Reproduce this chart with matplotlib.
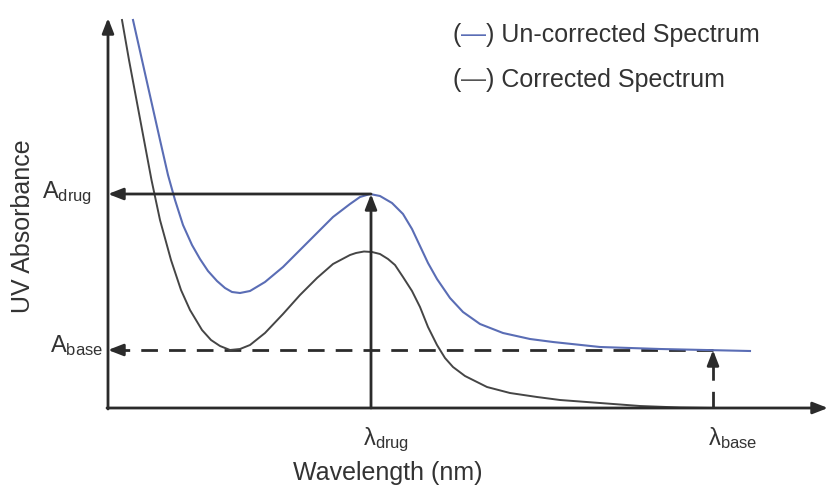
import matplotlib
matplotlib.use("Agg")
import matplotlib.pyplot as plt
from matplotlib.offsetbox import TextArea, HPacker, AnnotationBbox

plt.rcParams['font.family'] = ['Liberation Sans', 'DejaVu Sans']
plt.rcParams['mathtext.fontset'] = 'custom'
plt.rcParams['mathtext.rm'] = 'Liberation Sans'
plt.rcParams['mathtext.it'] = 'Liberation Sans'

# spectra (wavelength and absorbance in arbitrary units)
wl_corr = [14, 21, 28.5, 36, 43.5, 52, 63, 73, 82, 94, 103, 112, 122, 132, 142, 157,
           175, 192, 209, 225, 242, 248, 256, 264, 272, 280, 287, 295, 304, 312, 320,
           329, 337, 345, 357, 379, 402, 429, 452, 492, 532, 572, 605]
a_corr = [3.88, 3.48, 3.08, 2.68, 2.28, 1.88, 1.48, 1.18, 0.98, 0.78, 0.68, 0.62, 0.58,
          0.59, 0.63, 0.75, 0.94, 1.13, 1.30, 1.44, 1.53, 1.55, 1.565, 1.56, 1.54, 1.49,
          1.43, 1.31, 1.17, 1.01, 0.81, 0.63, 0.50, 0.41, 0.32, 0.21, 0.15, 0.11, 0.08,
          0.05, 0.02, 0.005, 0.0]
wl_unc = [25, 34, 43, 52, 60, 67, 75, 84, 92, 100, 109, 117, 124, 132, 142, 157, 175,
          192, 209, 225, 242, 252, 262, 272, 284, 295, 304, 312, 320, 329, 342, 355,
          372, 395, 422, 445, 492, 552, 642]
a_unc = [3.88, 3.48, 3.08, 2.68, 2.33, 2.08, 1.83, 1.63, 1.49, 1.37, 1.27, 1.20, 1.16,
         1.15, 1.17, 1.26, 1.41, 1.58, 1.75, 1.91, 2.04, 2.11, 2.14, 2.12, 2.05, 1.94,
         1.79, 1.62, 1.45, 1.29, 1.10, 0.96, 0.84, 0.75, 0.69, 0.66, 0.61, 0.59, 0.57]

lam_drug = 263
lam_base = 605
A_drug = 2.14
A_base = 0.58

fig = plt.figure(figsize=(8.28, 4.86), dpi=100)
ax = fig.add_axes([0, 0, 1, 1])
ax.set_xlim(-108, 720)
ax.set_ylim(-0.78, 4.08)
ax.axis('off')

dark = '#2b2b2b'
blue = '#5a6db5'
ax.plot(wl_corr, a_corr, color='#454545', lw=1.4, zorder=3, solid_joinstyle='round')
ax.plot(wl_unc, a_unc, color=blue, lw=1.5, zorder=3, solid_joinstyle='round')

# axes with arrow heads
head = dict(arrowstyle='-|>,head_length=0.9,head_width=0.35', color=dark, lw=2,
            shrinkA=0, shrinkB=0)
ax.annotate('', xy=(0, 3.90), xytext=(0, -0.01), arrowprops=head)
ax.annotate('', xy=(720, 0), xytext=(-1, 0), arrowprops=head)

# A_drug / lambda_drug solid arrows
ax.annotate('', xy=(0, A_drug), xytext=(lam_drug, A_drug), arrowprops=head)
ax.annotate('', xy=(lam_drug, A_drug), xytext=(lam_drug, 0), arrowprops=head)

# dashed base lines
ax.plot([lam_base, 15], [A_base, A_base], color=dark, lw=2, ls=(0, (6, 4)))
ax.plot([lam_base, lam_base], [0, A_base - 0.12], color=dark, lw=2, ls=(0, (6, 4)))
ax.annotate('', xy=(0, A_base), xytext=(16, A_base), arrowprops=head)
ax.annotate('', xy=(lam_base, A_base), xytext=(lam_base, A_base - 0.13), arrowprops=head)

fs = 17
fs_big = 18
tc = '#333333'
ax.text(-16, 2.10, r'A$_{\mathrm{drug}}$', ha='right', va='baseline', fontsize=fs, color=tc)
ax.text(-5, 0.56, r'A$_{\mathrm{base}}$', ha='right', va='baseline', fontsize=fs, color=tc)
ax.text(255, -0.37, r'λ$_{\mathrm{drug}}$', ha='left', va='baseline', fontsize=fs, color=tc)
ax.text(600, -0.37, r'λ$_{\mathrm{base}}$', ha='left', va='baseline', fontsize=fs, color=tc)
ax.text(280, -0.715, 'Wavelength (nm)', ha='center', va='baseline', fontsize=fs_big, color=tc)
ax.text(-85, 1.82, 'UV Absorbance', ha='center', va='center', rotation=90,
        fontsize=fs_big, color=tc)

# legend as coloured dash inside brackets
def legend_line(label, dash_color, y):
    parts = [TextArea('(', textprops=dict(color=tc, fontsize=fs_big)),
             TextArea('\u2014', textprops=dict(color=dash_color, fontsize=fs_big)),
             TextArea(') ' + label, textprops=dict(color=tc, fontsize=fs_big))]
    box = HPacker(children=parts, align='baseline', pad=0, sep=0)
    ab = AnnotationBbox(box, (453, 486 - y), xycoords='figure pixels',
                        box_alignment=(0, 0.5), frameon=False)
    ax.add_artist(ab)

legend_line('Un-corrected Spectrum', blue, 35)
legend_line('Corrected Spectrum', '#555555', 80)

fig.savefig('out.png', dpi=100)
